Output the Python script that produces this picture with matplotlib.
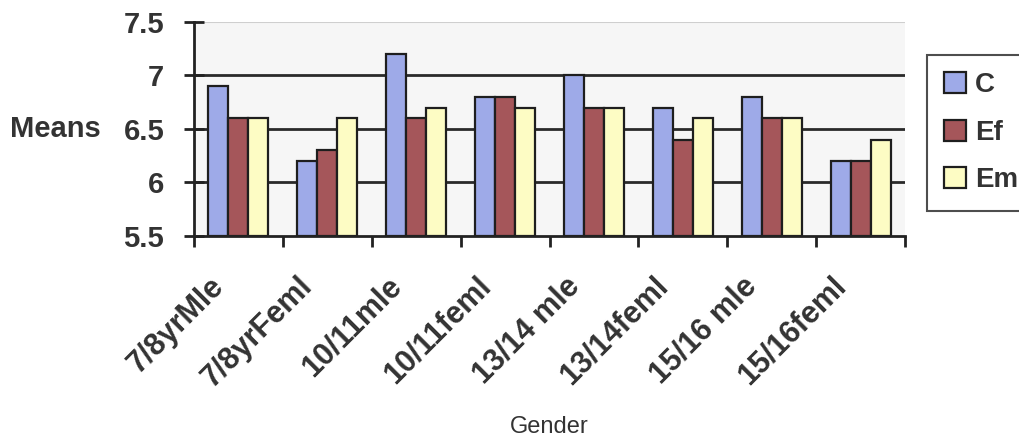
import numpy as np
import matplotlib
matplotlib.use("Agg")
import matplotlib.pyplot as plt
from matplotlib.transforms import ScaledTranslation

# Data
groups = ["7/8yrMle", "7/8yrFeml", "10/11mle", "10/11feml",
          "13/14 mle", "13/14feml", "15/16 mle", "15/16feml"]
c_vals = [6.9, 6.2, 7.2, 6.8, 7.0, 6.7, 6.8, 6.2]
ef_vals = [6.6, 6.3, 6.6, 6.8, 6.7, 6.4, 6.6, 6.2]
em_vals = [6.6, 6.6, 6.7, 6.7, 6.7, 6.6, 6.6, 6.4]
series_names = ["C", "Ef", "Em"]
series_colors = ["#9eaae8", "#a5565a", "#fdfcc4"]
yticks = [5.5, 6, 6.5, 7, 7.5]
ytick_labels = ["5.5", "6", "6.5", "7", "7.5"]

plt.rcParams['font.family'] = ['Liberation Sans', 'DejaVu Sans']

fig = plt.figure(figsize=(10.19, 4.46), dpi=100)
ax = fig.add_axes([194 / 1019, 1 - 236 / 446, 711 / 1019, 214 / 446])
ax.set_facecolor("#f6f6f6")

x = np.arange(len(groups))
w = 0.225
for i, (vals, name, col) in enumerate(zip([c_vals, ef_vals, em_vals], series_names, series_colors)):
    ax.bar(x + (i - 1) * w, np.array(vals) - 5.5, width=w, bottom=5.5,
           color=col, edgecolor="#1e1e1e", linewidth=1.6, label=name, zorder=3)

ax.set_xlim(-0.5, len(groups) - 0.5)
ax.set_ylim(5.5, 7.5)

# gridlines
for yv in [6, 6.5, 7]:
    ax.axhline(yv, color="#2a2a2a", linewidth=2, zorder=1)
ax.axhline(7.5, color="#cfcfcf", linewidth=1.5, zorder=1)

for s in ["top", "right"]:
    ax.spines[s].set_visible(False)
for s in ["left", "bottom"]:
    ax.spines[s].set_linewidth(2)
    ax.spines[s].set_color("#222222")
    ax.spines[s].set_zorder(4)

ax.set_yticks(yticks)
ax.set_yticklabels(ytick_labels, fontsize=21, fontweight="bold", color="#333333")
ax.tick_params(axis="y", direction="inout", length=15, width=2, pad=14, color="#222222")

# category boundaries carry the tick marks, labels sit at the centres
ax.set_xticks(np.arange(-0.5, len(groups), 1.0), minor=True)
ax.set_xticks(x)
ax.set_xticklabels(groups, fontsize=22, fontweight="bold", color="#333333",
                   rotation=45, ha="right", va="center", rotation_mode="anchor")
ax.tick_params(axis="x", which="major", length=0, pad=33)
ax.tick_params(axis="x", which="minor", direction="out", length=8, width=2, color="#222222")
offset = ScaledTranslation(-19 / 100, 0, fig.dpi_scale_trans)
for lbl in ax.get_xticklabels():
    lbl.set_transform(lbl.get_transform() + offset)

ax.set_ylabel("Means", rotation=0, fontsize=21, fontweight="bold", color="#333333",
              ha="left", va="center")
ax.yaxis.set_label_coords((10 - 194) / 711, 0.5)
ax.set_xlabel("Gender", fontsize=17, color="#333333", va="center")
ax.xaxis.set_label_coords(0.5, (236 - 427) / 214)

leg = ax.legend(loc="upper left", bbox_to_anchor=(927 / 1019, 1 - 55 / 446),
                bbox_transform=fig.transFigure, frameon=True, fancybox=False,
                prop={"size": 20, "weight": "bold"}, handlelength=0.8, handleheight=0.8,
                handletextpad=0.3, labelspacing=0.76, borderpad=0.62, borderaxespad=0)
leg.get_frame().set_edgecolor("#222222")
leg.get_frame().set_linewidth(1.5)
for t in leg.get_texts():
    t.set_color("#333333")

fig.savefig("out.png", dpi=100)
